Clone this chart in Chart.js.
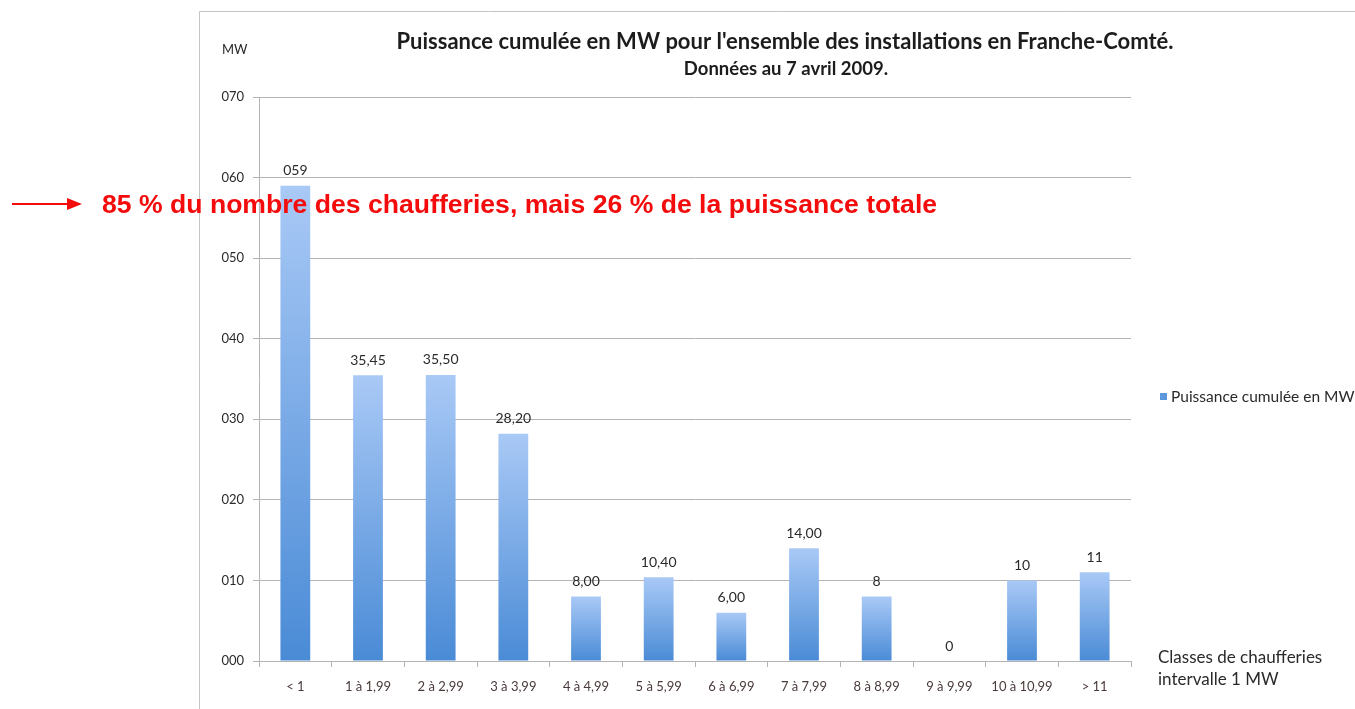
<!DOCTYPE html>
<html>
<head>
<meta charset="utf-8">
<script src="https://cdn.jsdelivr.net/npm/chart.js@4.4.1/dist/chart.umd.min.js"></script>
<style>
  html, body { margin: 0; padding: 0; background: #fff; }
  #wrap { position: relative; width: 1355px; height: 709px; }
</style>
</head>
<body>
<div id="wrap"><canvas id="chart" width="1355" height="709"></canvas></div>
<script>
// classes de puissance (MW) et puissance cumulée par classe
const classes = ["< 1", "1 à 1,99", "2 à 2,99", "3 à 3,99", "4 à 4,99", "5 à 5,99",
  "6 à 6,99", "7 à 7,99", "8 à 8,99", "9 à 9,99", "10 à 10,99", "> 11"];
const puissance = [59, 35.45, 35.5, 28.2, 8, 10.4, 6, 14, 8, 0, 10, 11];
const etiquettes = ["059", "35,45", "35,50", "28,20", "8,00", "10,40", "6,00", "14,00", "8", "0", "10", "11"];
const yTicks = [0, 10, 20, 30, 40, 50, 60, 70];

const FONT = "Lato, 'Open Sans', sans-serif";

// dégradé vertical propre à chaque barre
function barGradient(ctx) {
  const chart = ctx.chart;
  const y = chart.scales.y;
  if (!y || ctx.dataIndex === undefined) return "#7aaae8";
  const top = y.getPixelForValue(puissance[ctx.dataIndex]);
  const bottom = y.getPixelForValue(0);
  if (!isFinite(top) || bottom - top < 1) return "#7aaae8";
  const g = chart.ctx.createLinearGradient(0, top, 0, bottom);
  g.addColorStop(0, "#a9c9f6");
  g.addColorStop(1, "#4a8bd6");
  return g;
}

const extras = {
  id: "extras",
  afterDatasetsDraw(chart) {
    const c = chart.ctx;
    const meta = chart.getDatasetMeta(0);
    c.save();
    // valeurs au-dessus des barres
    c.fillStyle = "#2a2a2a";
    c.font = "14px " + FONT;
    c.textAlign = "center";
    c.textBaseline = "bottom";
    meta.data.forEach((bar, i) => {
      c.fillText(etiquettes[i], bar.x, bar.y - 8);
    });
    c.restore();
  },
  afterDraw(chart) {
    const c = chart.ctx;
    c.save();
    // cadre du graphique
    c.strokeStyle = "#c4c4c4";
    c.lineWidth = 1;
    c.beginPath();
    c.moveTo(199.5, 709);
    c.lineTo(199.5, 11.5);
    c.lineTo(1355, 11.5);
    c.stroke();

    // titres
    c.fillStyle = "#1c1c1c";
    c.textAlign = "center";
    c.textBaseline = "middle";
    c.font = "bold 22px " + FONT;
    c.fillText("Puissance cumulée en MW pour l'ensemble des installations en Franche-Comté.", 785, 42);
    c.font = "bold 18.5px " + FONT;
    c.fillText("Données au 7 avril 2009.", 786, 69);

    // unité de l'axe vertical
    c.font = "13px " + FONT;
    c.fillStyle = "#2a2a2a";
    c.textAlign = "left";
    c.fillText("MW", 222, 50);

    // titre de l'axe horizontal
    c.font = "17px " + FONT;
    c.fillText("Classes de chaufferies", 1158, 658);
    c.fillText("intervalle 1 MW", 1158, 680);

    // légende
    c.fillStyle = "#5d97dd";
    c.fillRect(1160, 393, 7, 7);
    c.fillStyle = "#2a2a2a";
    c.font = "15.5px " + FONT;
    c.fillText("Puissance cumulée en MW", 1171, 397);

    // annotation en rouge
    c.strokeStyle = "#f40c0c";
    c.fillStyle = "#f40c0c";
    c.lineWidth = 2;
    c.beginPath();
    c.moveTo(12, 204);
    c.lineTo(70, 204);
    c.stroke();
    c.beginPath();
    c.moveTo(82, 204);
    c.lineTo(67, 198);
    c.lineTo(67, 210);
    c.closePath();
    c.fill();
    c.font = "bold 26.6px 'Liberation Sans', Arial, sans-serif";
    c.textAlign = "left";
    c.fillText("85 % du nombre des chaufferies, mais 26 % de la puissance totale", 102, 206);
    c.restore();
  }
};

new Chart(document.getElementById("chart"), {
  type: "bar",
  data: {
    labels: classes,
    datasets: [{
      label: "Puissance cumulée en MW",
      data: puissance,
      backgroundColor: barGradient,
      borderWidth: 0,
      barPercentage: 0.82,
      categoryPercentage: 0.5
    }]
  },
  options: {
    responsive: false,
    animation: false,
    layout: { padding: { left: 199, right: 224, top: 97, bottom: 0 } },
    plugins: {
      legend: { display: false },
      tooltip: { enabled: false }
    },
    scales: {
      x: {
        afterFit(scale) { scale.height = 48; },
        grid: {
          offset: true,
          drawOnChartArea: false,
          drawTicks: true,
          tickLength: 6,
          color: "#b4b4b4"
        },
        border: { color: "#b4b4b4" },
        ticks: {
          color: "#4a3a3a",
          font: { family: FONT, size: 13 },
          padding: 12,
          maxRotation: 0,
          autoSkip: false
        }
      },
      y: {
        min: 0,
        max: 70,
        afterFit(scale) { scale.width = 60; },
        afterBuildTicks(scale) { scale.ticks = yTicks.map(v => ({ value: v })); },
        grid: { color: "#b4b4b4", tickLength: 6 },
        border: { color: "#b4b4b4" },
        ticks: {
          color: "#2a2a2a",
          font: { family: FONT, size: 13 },
          padding: 9,
          callback: v => String(v).padStart(3, "0")
        }
      }
    }
  },
  plugins: [extras]
});
</script>
</body>
</html>
